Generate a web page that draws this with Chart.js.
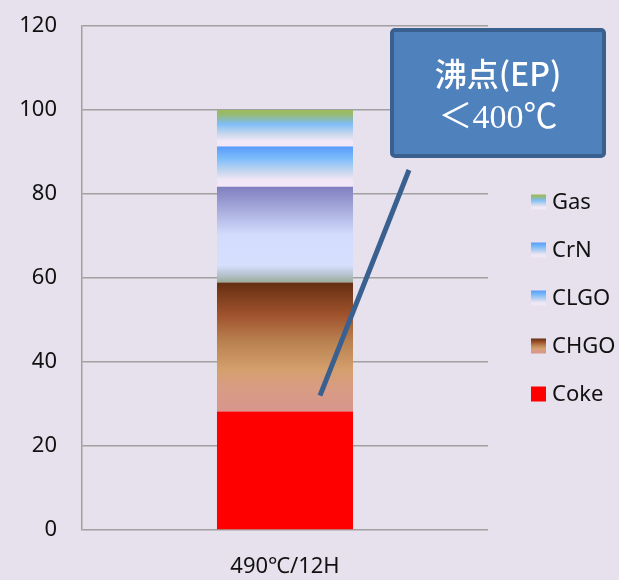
<!DOCTYPE html>
<html>
<head>
<meta charset="utf-8">
<script src="https://cdn.jsdelivr.net/npm/chart.js@4.4.1/dist/chart.umd.min.js"></script>
<style>
  html,body{margin:0;padding:0;background:#e6e1ec;}
  #wrap{width:619px;height:580px;position:relative;}
</style>
</head>
<body>
<div id="wrap"><canvas id="c"></canvas></div>
<script>
// data (bottom of stack first)
const categories=['490\u2103/12H'];
const seriesNames=['Coke','CHGO','CLGO','CrN','Gas'];
const coke=[28.2];
const chgo=[30.7];
const clgo=[22.8];
const crn=[9.6];
const gas=[8.7];
const yTicks=[0,20,40,60,80,100,120];
const calloutLines=['\u6cb8\u70b9(EP)','\uff1c400\u2103'];
const calloutPointAt=32;

// fills, top -> bottom of each segment
const fills={
  Coke:[[0,'#ff0000'],[1,'#ff0000']],
  CHGO:[[0,'#642f11'],[0.25,'#a0522d'],[0.45,'#b9804f'],[0.68,'#d4a06e'],[0.8,'#d89c82'],[1,'#d9968d']],
  CLGO:[[0,'#7f7fbf'],[0.5,'#d3dcfd'],[0.82,'#d6dffc'],[0.9,'#bcc7d8'],[1,'#9aac98']],
  CrN:[[0,'#5a9bfc'],[0.3,'#7dbdfa'],[0.62,'#c6d6ee'],[0.82,'#efe6f6'],[1,'#f3e7f7']],
  Gas:[[0,'#9bbb59'],[0.12,'#97ba70'],[0.38,'#7fbdf7'],[0.66,'#c9d8ec'],[0.85,'#f2e8f8'],[1,'#f4e8f8']]
};
// the legend swatch of CLGO is shown blue in the original
const swatchFills=Object.assign({},fills,{CLGO:fills.CrN});
const values=[coke,chgo,clgo,crn,gas];

function segFill(name){
  const stops=fills[name];
  return function(ctx){
    const chart=ctx.chart, y=chart.scales.y;
    if(!chart.chartArea||!y) return stops[0][1];
    const ds=ctx.datasetIndex, i=ctx.dataIndex;
    let base=0;
    for(let k=0;k<ds;k++) base+=chart.data.datasets[k].data[i];
    const top=y.getPixelForValue(base+chart.data.datasets[ds].data[i]);
    const bot=y.getPixelForValue(base);
    const g=chart.ctx.createLinearGradient(0,top,0,bot);
    stops.forEach(s=>g.addColorStop(s[0],s[1]));
    return g;
  };
}

const datasets=seriesNames.map((n,k)=>({
  label:n,
  data:values[k],
  backgroundColor:segFill(n),
  hoverBackgroundColor:segFill(n),
  borderWidth:0,
  barPercentage:0.335,
  categoryPercentage:1
}));

// legend on the right, top item = top of stack
const sideLegend={
  id:'sideLegend',
  afterDraw(chart){
    const {ctx,chartArea}=chart;
    const x=chartArea.right+43, y0=chartArea.top+176, gap=48, box=15;
    ctx.save();
    ctx.font='22px "Noto Sans"';
    ctx.textBaseline='middle';
    ctx.textAlign='left';
    chart.data.datasets.slice().reverse().forEach((ds,i)=>{
      const cy=y0+i*gap;
      const g=ctx.createLinearGradient(0,cy-box/2,0,cy+box/2);
      swatchFills[ds.label].forEach(s=>g.addColorStop(s[0],s[1]));
      ctx.fillStyle=g;
      ctx.fillRect(x,cy-box/2,box,box);
      ctx.fillStyle='#111';
      ctx.fillText(ds.label,x+21,cy+1);
    });
    ctx.restore();
  }
};

// callout box with pointer into the bar
const callout={
  id:'callout',
  afterDatasetsDraw(chart){
    const {ctx,chartArea,scales}=chart;
    const px=scales.x.getPixelForValue(0)+35;
    const py=scales.y.getPixelForValue(calloutPointAt);
    const bx=chartArea.left+308, by=chartArea.top+2, bw=216, bh=130;
    ctx.save();
    ctx.strokeStyle='#3a6090';
    ctx.lineWidth=5;
    ctx.beginPath();
    ctx.moveTo(chartArea.left+327,chartArea.top+144);
    ctx.lineTo(px,py);
    ctx.stroke();

    ctx.fillStyle='#4f81bd';
    ctx.lineWidth=4;
    ctx.beginPath();
    ctx.roundRect(bx+2,by+2,bw-4,bh-4,3);
    ctx.fill();
    ctx.stroke();

    ctx.fillStyle='#ffffff';
    ctx.textAlign='center';
    ctx.textBaseline='middle';
    const cx=bx+bw/2;
    ctx.font='500 32px "Noto Sans CJK JP"';
    ctx.fillText(calloutLines[0],cx,by+46);
    ctx.font='34px "Liberation Serif","Noto Sans CJK JP"';
    ctx.fillText(calloutLines[1],cx,by+91);
    ctx.restore();
  }
};

new Chart(document.getElementById('c').getContext('2d'),{
  type:'bar',
  data:{labels:categories,datasets:datasets},
  options:{
    responsive:true,maintainAspectRatio:false,animation:false,
    layout:{padding:{left:19,top:26,right:131,bottom:1}},
    plugins:{legend:{display:false},tooltip:{enabled:false}},
    scales:{
      x:{
        stacked:true,
        grid:{display:false},
        border:{display:false},
        afterFit(s){s.height=49;},
        ticks:{font:{family:'"Noto Sans"',size:22},color:'#111',padding:16}
      },
      y:{
        stacked:true,min:0,max:120,
        afterBuildTicks(s){s.ticks=yTicks.map(v=>({value:v}));},
        afterFit(s){s.width=63;s.paddingTop=0;s.paddingBottom=0;},
        grid:{color:'#a0a0a0',lineWidth:1.5,drawTicks:false},
        border:{display:true,color:'#a0a0a0',width:1.5},
        ticks:{font:{family:'"Noto Sans"',size:22},color:'#111',padding:25}
      }
    }
  },
  plugins:[callout,sideLegend]
});
</script>
</body>
</html>
